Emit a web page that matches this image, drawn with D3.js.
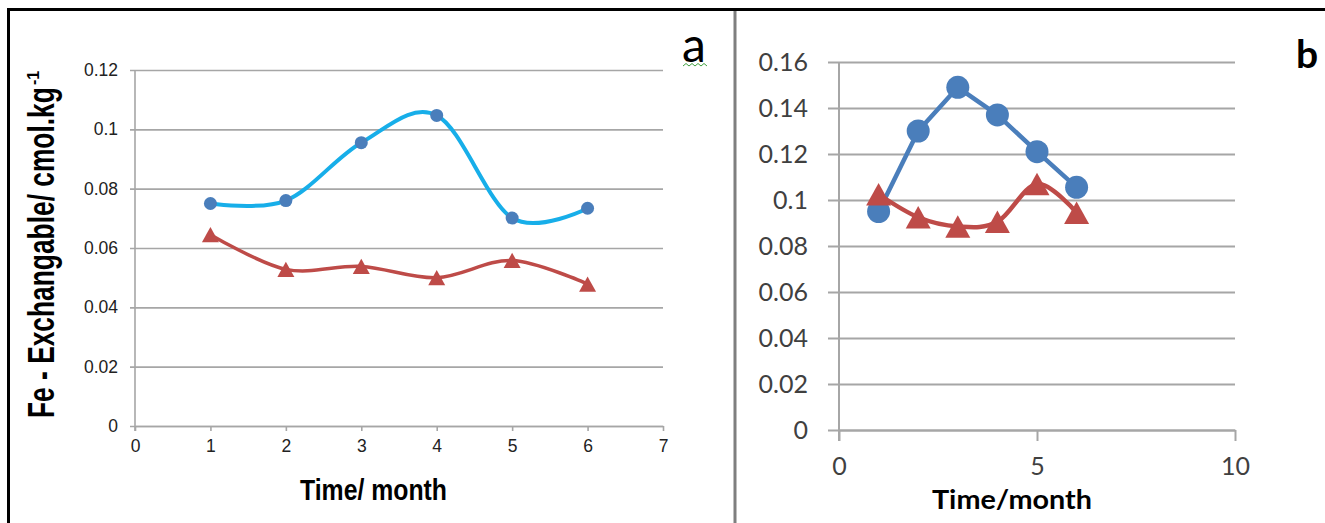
<!DOCTYPE html>
<html>
<head>
<meta charset="utf-8">
<script src="https://cdn.jsdelivr.net/npm/d3@7"></script>
<style>
  html, body { margin: 0; padding: 0; background: #fff; }
  svg { display: block; }
</style>
</head>
<body>
<div id="vis"></div>
<script>
// Two panels: Fe exchangeable over time. Panel a smooth lines, panel b Excel-style.

const MONTHS = [1, 2, 3, 4, 5, 6];

const A_BLUE = [0.075, 0.076, 0.0955, 0.1047, 0.0701, 0.0734];
const A_RED  = [0.0645, 0.0528, 0.0538, 0.0500, 0.0558, 0.0478];

const B_BLUE = [0.095, 0.130, 0.149, 0.137, 0.121, 0.1055];
const B_RED  = [0.1025, 0.0925, 0.0885, 0.0905, 0.107, 0.0945];

const A_X_TICKS = [0, 1, 2, 3, 4, 5, 6, 7];
const A_Y_TICKS = [0, 0.02, 0.04, 0.06, 0.08, 0.1, 0.12];
const B_X_TICKS = [0, 5, 10];
const B_Y_TICKS = [0, 0.02, 0.04, 0.06, 0.08, 0.1, 0.12, 0.14, 0.16];

const W = 1325, H = 523;
const GRID = "#a6a6a6";
const ARIAL = "'Liberation Sans', Arial, sans-serif";

const svg = d3.select("#vis").append("svg").attr("width", W).attr("height", H);

// ── frame ────────────────────────────────────────────────────────────────────
svg.append("line").attr("x1", 7).attr("x2", W).attr("y1", 9.5).attr("y2", 9.5)
  .attr("stroke", "#000").attr("stroke-width", 3);
svg.append("line").attr("x1", 8.5).attr("x2", 8.5).attr("y1", 8).attr("y2", H)
  .attr("stroke", "#000").attr("stroke-width", 3);
svg.append("line").attr("x1", 735).attr("x2", 735).attr("y1", 11).attr("y2", H)
  .attr("stroke", "#7f7f7f").attr("stroke-width", 3);

function triPath(w, h) {
  return `M0,${-h / 2}L${w / 2},${h / 2}L${-w / 2},${h / 2}Z`;
}

// squeeze a text along its own direction so it spans `len` px
function squeeze(gSel, len) {
  const t = gSel.select("text").node();
  const natural = t.getComputedTextLength();
  gSel.select(".sq").attr("transform", `scale(${len / natural},1)`);
}

function panel(opts) {
  const x = d3.scaleLinear().domain(opts.xDomain).range([opts.left, opts.right]);
  const y = d3.scaleLinear().domain(opts.yDomain).range([opts.bottom, opts.top]);
  const g = svg.append("g");

  // gridlines + y labels
  g.append("g")
    .attr("transform", `translate(${opts.left - opts.tick},0)`)
    .call(d3.axisLeft(y).tickValues(opts.yTicks)
      .tickSize(-(opts.right - opts.left + opts.tick)).tickSizeOuter(0)
      .tickPadding(opts.yPad).tickFormat(d => String(+d.toFixed(2))))
    .call(ax => ax.select(".domain").remove())
    .call(ax => ax.selectAll(".tick line").attr("stroke", GRID).attr("stroke-width", opts.gridW))
    .call(ax => ax.selectAll("text")
      .style("font-family", opts.font).style("font-size", opts.fs + "px").attr("fill", opts.labelColor));

  // vertical axis line
  g.append("line")
    .attr("x1", x(opts.xDomain[0])).attr("x2", x(opts.xDomain[0]))
    .attr("y1", y(opts.yDomain[0]) + opts.tick).attr("y2", y(opts.yDomain[1]))
    .attr("stroke", GRID).attr("stroke-width", opts.gridW);

  // x axis
  g.append("g")
    .attr("transform", `translate(0,${opts.bottom})`)
    .call(d3.axisBottom(x).tickValues(opts.xTicks).tickFormat(d3.format("d"))
      .tickSize(opts.tick).tickSizeOuter(0).tickPadding(opts.xPad))
    .call(ax => ax.select(".domain").attr("stroke", GRID).attr("stroke-width", opts.gridW))
    .call(ax => ax.selectAll(".tick line").attr("stroke", GRID).attr("stroke-width", opts.gridW))
    .call(ax => ax.selectAll("text")
      .style("font-family", opts.font).style("font-size", opts.fs + "px").attr("fill", opts.labelColor));

  opts.series.forEach(s => {
    const pts = MONTHS.map((m, i) => [m, s.values[i]]);
    g.append("path")
      .attr("d", d3.line().x(d => x(d[0])).y(d => y(d[1])).curve(s.curve)(pts))
      .attr("fill", "none").attr("stroke", s.lineColor).attr("stroke-width", s.lineW)
      .attr("stroke-linejoin", "round").attr("stroke-linecap", "round");
    if (s.marker === "circle") {
      g.append("g").selectAll("circle").data(pts).join("circle")
        .attr("cx", d => x(d[0])).attr("cy", d => y(d[1])).attr("r", s.size)
        .attr("fill", s.markerColor);
    } else {
      g.append("g").selectAll("path").data(pts).join("path")
        .attr("transform", d => `translate(${x(d[0])},${y(d[1])})`)
        .attr("d", triPath(s.size, s.size * 0.9))
        .attr("fill", s.markerColor);
    }
  });
  return g;
}

const smooth = d3.curveCatmullRom.alpha(0);

// ── panel a ──────────────────────────────────────────────────────────────────
panel({
  xDomain: [0, 7], yDomain: [0, 0.12],
  left: 135, right: 663, top: 70, bottom: 426,
  xTicks: A_X_TICKS, yTicks: A_Y_TICKS,
  tick: 5, gridW: 1.6, yPad: 12, xPad: 9,
  font: ARIAL, fs: 17.5, labelColor: "#222",
  series: [
    { values: A_BLUE, lineColor: "#17aee9", lineW: 4, marker: "circle", markerColor: "#4a7ebb", size: 6.5, curve: smooth },
    { values: A_RED, lineColor: "#be4b48", lineW: 3.5, marker: "tri", markerColor: "#be4b48", size: 17, curve: smooth },
  ],
});

const xTitleA = svg.append("g").attr("transform", "translate(300,500)");
xTitleA.append("g").attr("class", "sq").append("text")
  .style("font-family", ARIAL).style("font-weight", "bold")
  .style("font-size", "30px").attr("fill", "#000")
  .text("Time/ month");
squeeze(xTitleA, 147);

const yTitle = svg.append("g").attr("transform", "translate(54,418) rotate(-90)");
const yTitleIn = yTitle.append("g").attr("class", "sq");
yTitleIn.append("text")
  .style("font-family", ARIAL).style("font-weight", "bold")
  .style("font-size", "36px").attr("fill", "#000")
  .text("Fe - Exchangable/ cmol.kg");
squeeze(yTitle, 331);
yTitle.append("text")
  .attr("x", 333).attr("y", -15)
  .style("font-family", ARIAL).style("font-weight", "bold")
  .style("font-size", "16px").attr("fill", "#000")
  .text("-1");

svg.append("text")
  .attr("x", 682).attr("y", 62)
  .style("font-family", "Lato, sans-serif").style("font-size", "48px").attr("fill", "#000")
  .text("a");
// spell-check squiggle under "a"
const sq = d3.range(0, 9).map(i => [683 + i * 3, i % 2 ? 63.5 : 66]);
svg.append("path").attr("d", d3.line()(sq))
  .attr("fill", "none").attr("stroke", "#3f9f3f").attr("stroke-width", 1);

// ── panel b ──────────────────────────────────────────────────────────────────
panel({
  xDomain: [0, 10], yDomain: [0, 0.16],
  left: 839, right: 1235, top: 62, bottom: 430,
  xTicks: B_X_TICKS, yTicks: B_Y_TICKS,
  tick: 11, gridW: 2, yPad: 20, xPad: 16,
  font: "Lato, sans-serif", fs: 25, labelColor: "#404040",
  series: [
    { values: B_BLUE, lineColor: "#4a7ebb", lineW: 4.5, marker: "circle", markerColor: "#4a7ebb", size: 11.5, curve: d3.curveLinear },
    { values: B_RED, lineColor: "#be4b48", lineW: 4.5, marker: "tri", markerColor: "#be4b48", size: 25, curve: smooth },
  ],
});

const xTitleB = svg.append("g").attr("transform", "translate(932,509)");
xTitleB.append("g").attr("class", "sq").append("text")
  .style("font-family", "Lato, sans-serif").style("font-weight", "bold")
  .style("font-size", "26px").attr("fill", "#000")
  .text("Time/month");
squeeze(xTitleB, 160);

svg.append("text")
  .attr("x", 1296).attr("y", 68)
  .style("font-family", "Lato, sans-serif").style("font-weight", "bold")
  .style("font-size", "39px").attr("fill", "#000")
  .text("b");
</script>
</body>
</html>
